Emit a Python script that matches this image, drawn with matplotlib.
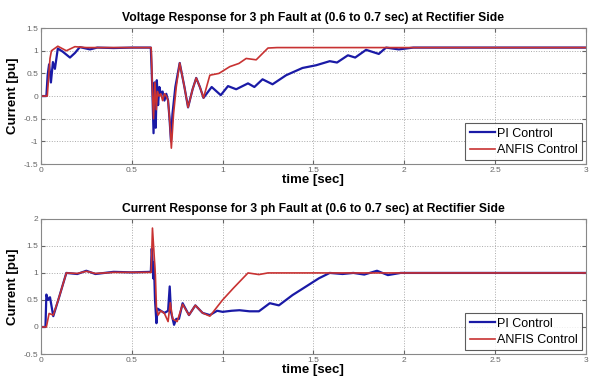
import matplotlib
matplotlib.use("Agg")
import matplotlib.pyplot as plt

plt.rcParams["font.family"] = ["Liberation Sans", "DejaVu Sans"]

# ---- Voltage response (top) ----
v_pi_t = [0, 0.03, 0.037, 0.045, 0.055, 0.066, 0.077, 0.093, 0.12, 0.16, 0.187, 0.214, 0.27, 0.31, 0.4, 0.5,
          0.605, 0.613, 0.62, 0.626, 0.632, 0.638, 0.645, 0.652, 0.66, 0.67, 0.68, 0.69, 0.70, 0.708, 0.716, 0.724,
          0.74, 0.764, 0.79, 0.81, 0.835, 0.855, 0.875, 0.895, 0.94, 0.99, 1.03, 1.075, 1.14, 1.175, 1.22, 1.275,
          1.35, 1.44, 1.515, 1.59, 1.63, 1.69, 1.73, 1.79, 1.86, 1.9, 1.97, 2.05, 2.5, 3.0]
v_pi = [0, 0, 0.46, 0.7, 0.3, 0.75, 0.6, 1.05, 0.98, 0.85, 0.95, 1.08, 1.03, 1.07, 1.06, 1.07,
        1.07, 0.2, -0.82, 0.3, -0.7, 0.35, -0.2, 0.2, 0.05, 0.1, -0.1, 0.05, -0.1, -0.5, -1.0, -0.4,
        0.2, 0.73, 0.2, -0.25, 0.15, 0.4, 0.2, -0.04, 0.2, 0.02, 0.22, 0.15, 0.28, 0.2, 0.37, 0.26,
        0.46, 0.62, 0.68, 0.77, 0.74, 0.9, 0.85, 1.02, 0.93, 1.07, 1.03, 1.07, 1.07, 1.07]

v_anfis_t = [0, 0.035, 0.05, 0.058, 0.093, 0.14, 0.187, 0.25, 0.4, 0.5, 0.607, 0.615, 0.62, 0.628, 0.635,
             0.642, 0.65, 0.66, 0.67, 0.68, 0.69, 0.70, 0.71, 0.718, 0.73, 0.745, 0.764, 0.79, 0.81, 0.835,
             0.855, 0.875, 0.895, 0.93, 0.98, 1.04, 1.09, 1.13, 1.185, 1.25, 1.3, 2.0, 3.0]
v_anfis = [0, 0, 0.83, 1.0, 1.1, 1.0, 1.09, 1.07, 1.07, 1.07, 1.07, 0.0, -0.5, 0.3, -0.3,
           0.1, 0.0, 0.05, -0.1, 0.05, 0.0, -0.1, -0.6, -1.15, -0.4, 0.2, 0.73, 0.2, -0.25, 0.15,
           0.4, 0.2, -0.04, 0.46, 0.5, 0.65, 0.72, 0.83, 0.8, 1.06, 1.07, 1.07, 1.07]

# ---- Current response (bottom) ----
c_pi_t = [0, 0.025, 0.03, 0.04, 0.05, 0.068, 0.1, 0.14, 0.2, 0.25, 0.3, 0.4, 0.5, 0.605, 0.61, 0.614,
          0.618, 0.622, 0.628, 0.636, 0.642, 0.66, 0.68, 0.70, 0.709, 0.716, 0.733, 0.745, 0.76, 0.78,
          0.815, 0.85, 0.89, 0.93, 0.97, 1.0, 1.05, 1.093, 1.148, 1.2, 1.26, 1.31, 1.385, 1.46, 1.53,
          1.59, 1.66, 1.72, 1.78, 1.85, 1.91, 1.98, 2.5, 3.0]
c_pi = [0, 0, 0.6, 0.5, 0.55, 0.2, 0.55, 1.0, 0.98, 1.04, 0.98, 1.02, 1.01, 1.02, 1.45, 1.24,
        0.9, 1.2, 0.5, 0.07, 0.34, 0.3, 0.26, 0.3, 0.75, 0.28, 0.04, 0.15, 0.15, 0.44,
        0.22, 0.4, 0.26, 0.22, 0.3, 0.28, 0.3, 0.31, 0.29, 0.29, 0.44, 0.4, 0.59, 0.75, 0.9,
        1.0, 0.98, 1.0, 0.97, 1.04, 0.96, 1.0, 1.0, 1.0]

c_anfis_t = [0, 0.03, 0.045, 0.068, 0.1, 0.14, 0.2, 0.25, 0.3, 0.4, 0.5, 0.607, 0.614, 0.63, 0.636,
             0.645, 0.66, 0.68, 0.70, 0.712, 0.725, 0.75, 0.78, 0.815, 0.85, 0.89, 0.93, 1.0, 1.06,
             1.14, 1.2, 1.25, 1.5, 2.0, 3.0]
c_anfis = [0, 0, 0.25, 0.22, 0.55, 1.0, 0.99, 1.03, 0.99, 1.01, 1.01, 1.01, 1.83, 0.97, 0.35,
           0.22, 0.3, 0.25, 0.1, 0.45, 0.15, 0.1, 0.42, 0.22, 0.4, 0.26, 0.2, 0.5, 0.72,
           1.0, 0.97, 1.0, 1.0, 1.0, 1.0]

x_ticks = [0, 0.5, 1, 1.5, 2, 2.5, 3]
x_tick_labels = ["0", "0.5", "1", "1.5", "2", "2.5", "3"]
v_ticks = [-1.5, -1, -0.5, 0, 0.5, 1, 1.5]
v_tick_labels = ["-1.5", "-1", "-0.5", "0", "0.5", "1", "1.5"]
c_ticks = [-0.5, 0, 0.5, 1, 1.5, 2]
c_tick_labels = ["-0.5", "0", "0.5", "1", "1.5", "2"]

titles = ["Voltage Response for 3 ph Fault at (0.6 to 0.7 sec) at Rectifier Side",
          "Current Response for 3 ph Fault at (0.6 to 0.7 sec) at Rectifier Side"]
labels = ["PI Control", "ANFIS Control"]

BLUE = "#1a1aa6"
RED = "#c83232"

fig = plt.figure(figsize=(5.93, 3.85), dpi=100)
ax1 = fig.add_axes([0.069, 0.574, 0.919, 0.353])
ax2 = fig.add_axes([0.069, 0.0805, 0.919, 0.351])

specs = [
    (ax1, v_pi_t, v_pi, v_anfis_t, v_anfis, v_ticks, v_tick_labels, (-1.5, 1.5), titles[0]),
    (ax2, c_pi_t, c_pi, c_anfis_t, c_anfis, c_ticks, c_tick_labels, (-0.5, 2), titles[1]),
]

for ax, pt, pv, at, av, yt, ytl, ylim, title in specs:
    ax.plot(pt, pv, color=BLUE, lw=1.6, label=labels[0])
    ax.plot(at, av, color=RED, lw=1.2, label=labels[1])
    ax.set_xlim(0, 3)
    ax.set_ylim(*ylim)
    ax.set_xticks(x_ticks)
    ax.set_xticklabels(x_tick_labels)
    ax.set_yticks(yt)
    ax.set_yticklabels(ytl)
    ax.tick_params(labelsize=6, colors="#666666", length=3, direction="in", pad=2)
    ax.tick_params(top=True, right=True)
    ax.grid(True, linestyle=":", color="#aaaaaa", lw=0.7)
    for s in ax.spines.values():
        s.set_color("#888888")
        s.set_linewidth(0.8)
    ax.set_title(title, fontsize=8.7, fontweight="bold", pad=5)
    ax.set_ylabel("Current [pu]", fontsize=9.5, fontweight="bold", labelpad=3)
    ax.set_xlabel("time [sec]", fontsize=9.5, fontweight="bold", labelpad=0)
    leg = ax.legend(loc="lower right", fontsize=9, frameon=True, fancybox=False,
                    borderpad=0.35, handlelength=2.0, handletextpad=0.2, labelspacing=0.35,
                    borderaxespad=0.3)
    leg.get_frame().set_edgecolor("#333333")
    leg.get_frame().set_linewidth(0.8)

fig.savefig("out.png", dpi=100)
